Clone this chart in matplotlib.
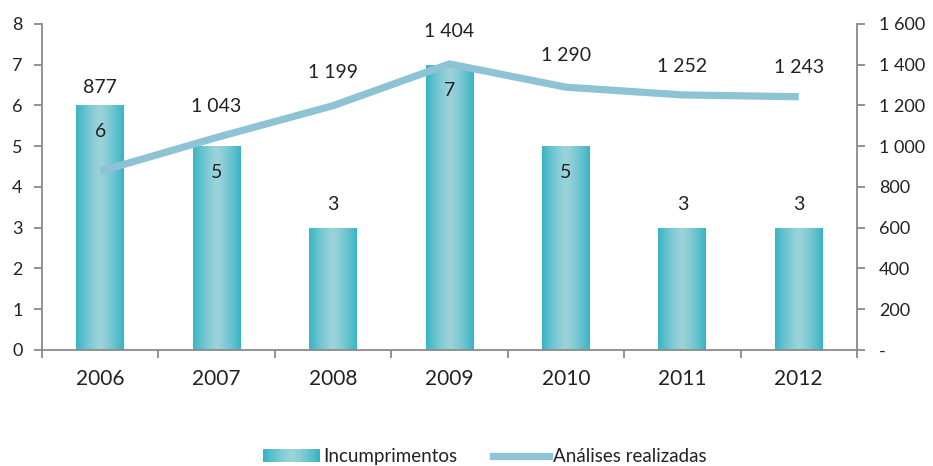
import matplotlib
matplotlib.use("Agg")
import matplotlib.pyplot as plt
import numpy as np
from matplotlib.patches import Rectangle
from matplotlib.lines import Line2D
from matplotlib.legend_handler import HandlerBase
from matplotlib.ticker import FuncFormatter, FixedLocator

plt.rcParams['font.family'] = ['Lato', 'DejaVu Sans']

years = ["2006", "2007", "2008", "2009", "2010", "2011", "2012"]
incumprimentos = [6, 5, 3, 7, 5, 3, 3]
analises = [877, 1043, 1199, 1404, 1290, 1252, 1243]

bar_label_offsets = [-26, -26, 23, -26, -26, 23, 23]   # px, relative to bar top
line_label_offsets = [84, 31, 33, 32, 32, 28, 29]      # px above the line point

EDGE = np.array([0x38, 0xb5, 0xc5]) / 255
CENTER = np.array([0x9c, 0xd3, 0xda]) / 255
LINE_C = "#8dc3d4"
AX_C = "#8a8a8a"
TXT = "#222222"

def gradient(n=64):
    t = np.linspace(-1, 1, n)
    w = np.abs(t) ** 1.3
    cols = CENTER[None, :] * (1 - w[:, None]) + EDGE[None, :] * w[:, None]
    return cols[None, :, :]

fig = plt.figure(figsize=(9.33, 4.66), dpi=100)
ax = fig.add_axes([0.045, 0.249, 0.8735, 0.6995])
ax2 = ax.twinx()

x = np.arange(len(years))
bars = ax.bar(x, incumprimentos, width=0.41, color="none", edgecolor="none", zorder=2)
img = gradient()
for b in bars:
    x0, w, h = b.get_x(), b.get_width(), b.get_height()
    im = ax.imshow(img, extent=[x0, x0 + w, 0, h], aspect="auto", zorder=2,
                   interpolation="bilinear")
    im.set_clip_path(b)

ax.set_xlim(-0.5, len(years) - 0.5)
ax.set_ylim(0, 8)
ax2.set_ylim(0, 1600)

for xi, v, off in zip(x, incumprimentos, bar_label_offsets):
    ax.annotate(str(v), (xi, v), xytext=(0, off * 0.72), textcoords="offset points",
                ha="center", va="center", fontsize=14, color=TXT, zorder=5)

ax2.plot(x, analises, color=LINE_C, lw=5.2, solid_capstyle="butt", zorder=3)

def fmt_thousands(v):
    return f"{int(round(v)):,}".replace(",", " ")

for xi, v, off in zip(x, analises, line_label_offsets):
    ax2.annotate(fmt_thousands(v), (xi, v), xytext=(0, off * 0.72), textcoords="offset points",
                 ha="center", va="center", fontsize=14, color=TXT)

for a in (ax, ax2):
    for s in a.spines.values():
        s.set_visible(False)
ax.spines['left'].set_visible(True)
ax.spines['bottom'].set_visible(True)
ax2.spines['right'].set_visible(True)
for s in (ax.spines['left'], ax.spines['bottom'], ax2.spines['right']):
    s.set_color(AX_C)
    s.set_linewidth(1.3)

ax.set_yticks(range(0, 9))
ax.tick_params(axis='y', colors=AX_C, labelcolor=TXT, labelsize=13, length=6, width=1.3, pad=8)
ax2.set_yticks(range(0, 1601, 200))
ax2.yaxis.set_major_formatter(FuncFormatter(lambda v, p: "-" if v == 0 else fmt_thousands(v)))
ax2.tick_params(axis='y', colors=AX_C, labelcolor=TXT, labelsize=13, length=6, width=1.3, pad=10)

ax.set_xticks(x)
ax.set_xticklabels(years)
ax.tick_params(axis='x', which='major', length=0, labelsize=15, labelcolor=TXT, pad=14)
ax.xaxis.set_minor_locator(FixedLocator(np.arange(-0.5, len(years), 1.0)))
ax.tick_params(axis='x', which='minor', length=6, width=1.3, color=AX_C)
ax2.set_zorder(ax.get_zorder() + 1)
ax2.patch.set_visible(False)

class GradHandler(HandlerBase):
    def create_artists(self, legend, orig_handle, xdescent, ydescent, width, height, fontsize, trans):
        arts = []
        n = 24
        cols = gradient(n)[0]
        for i in range(n):
            r = Rectangle((i * width / n, 0), width / n + 0.3, height,
                          facecolor=cols[i], edgecolor="none", transform=trans)
            arts.append(r)
        return arts

bar_handle = Rectangle((0, 0), 1, 1)
line_handle = Line2D([], [], color=LINE_C, lw=5.2)
leg = fig.legend([bar_handle, line_handle], ["Incumprimentos", "Análises realizadas"],
                 handler_map={Rectangle: GradHandler()},
                 loc="lower center", bbox_to_anchor=(0.52, -0.035), ncol=2, frameon=False,
                 fontsize=13.5, handlelength=3.0, handleheight=0.75, handletextpad=0.2,
                 columnspacing=1.9)
for t in leg.get_texts():
    t.set_color(TXT)

fig.savefig("out.png", dpi=100)
